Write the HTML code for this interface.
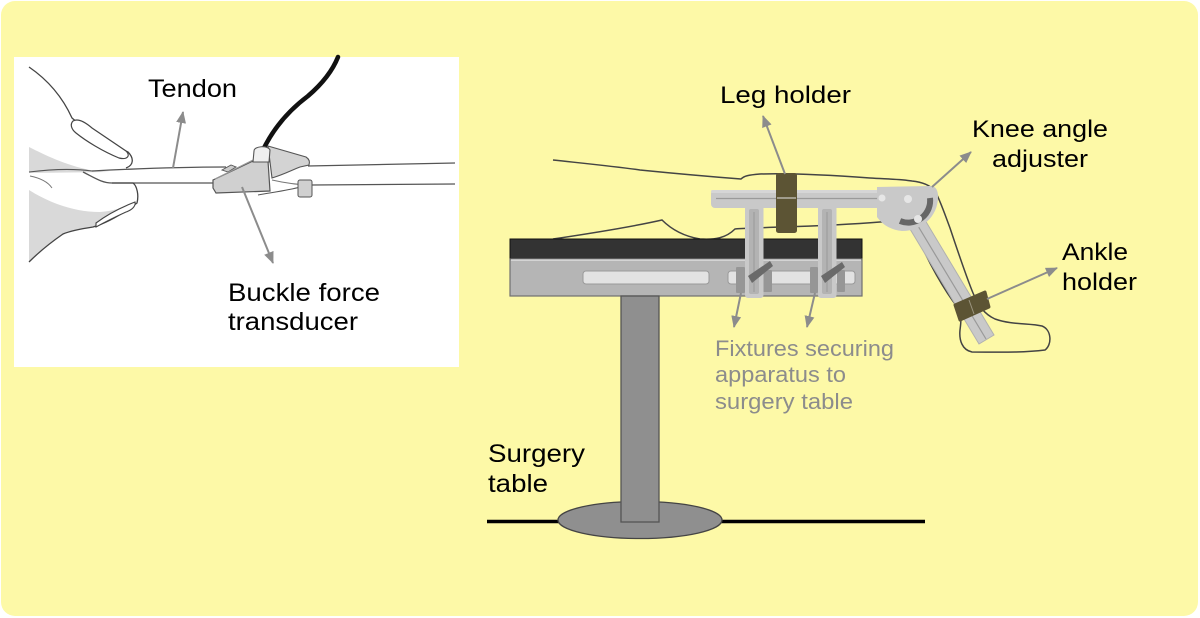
<!DOCTYPE html>
<html><head><meta charset="utf-8"><style>
html,body{margin:0;padding:0;background:#fff;}
svg{display:block;}
text{font-family:"Liberation Sans",Arial,sans-serif;}
</style></head><body>
<svg width="1200" height="618" viewBox="0 0 1200 618" xmlns="http://www.w3.org/2000/svg">
<defs>
<marker id="ah" viewBox="0 0 12 10" refX="11" refY="5" markerWidth="12" markerHeight="10" markerUnits="userSpaceOnUse" orient="auto">
<path d="M0,0 L12,5 L0,10 Z" fill="#8c8c8c"/>
</marker>
</defs>
<rect x="1" y="1" width="1197" height="615" rx="14" ry="14" fill="#fdf9a7"/>
<!-- left image -->
<rect x="14" y="57" width="445" height="310" fill="#ffffff"/>
<!-- hand shading -->
<path d="M29,147 C45,155 65,165 90,170 L110,172 L29,173 Z" fill="#d9d9d9"/>
<path d="M29,190 C45,200 70,212 100,212 C115,211 128,206 137,203 C125,212 110,222 93,227 C80,229 70,231 63,234 C50,243 38,253 29,262 Z" fill="#d9d9d9"/>
<!-- index finger outline -->
<path d="M29,67 C48,80 62,96 72,118 C90,134 112,145 128,152 C134,158 134,165 126,168" fill="none" stroke="#444" stroke-width="1.3"/>
<path d="M73,121 C78,118 85,122 92,128 L126,151 C131,156 127,160 119,158 C102,151 86,141 76,133 C71,129 70,124 73,121 Z" fill="#fff" stroke="#444" stroke-width="1.2"/>
<!-- palm crease lines -->
<path d="M29,172 C45,170 70,168 92,171" fill="none" stroke="#555" stroke-width="1.1"/>
<path d="M30,176 C40,178 48,182 52,188" fill="none" stroke="#777" stroke-width="0.9"/>
<!-- tendon -->
<path d="M92,171 C130,169 180,167 226,167" fill="none" stroke="#555" stroke-width="1.3"/>
<path d="M83,172 C95,178 102,183 112,183 L214,183" fill="none" stroke="#555" stroke-width="1.3"/>
<path d="M308,166 L455,163" fill="none" stroke="#555" stroke-width="1.3"/>
<path d="M312,185 L455,184" fill="none" stroke="#555" stroke-width="1.3"/>
<path d="M272,180 C285,183 300,185 312,185" fill="none" stroke="#777" stroke-width="1"/>
<path d="M258,195 C275,192 290,190 300,187" fill="none" stroke="#555" stroke-width="1.1"/>
<!-- thumb -->
<path d="M112,183 L133,183 C137,186 139,195 137,203 C125,212 110,222 93,227 C80,229 70,231 63,234 C50,243 38,253 29,262" fill="none" stroke="#444" stroke-width="1.3"/>
<path d="M96,223 C108,214 122,207 135,202 C136,206 132,210 126,212 C115,217 105,222 96,227 Z" fill="#fff" stroke="#444" stroke-width="1.1"/>
<!-- cable -->
<path d="M263,150 C275,125 292,108 308,96 C322,84 332,72 338,57" fill="none" stroke="#111" stroke-width="4.5" stroke-linecap="round"/>
<!-- buckle back -->
<path d="M268,146 L306,157 C309,159 310,162 309,165 L300,167 C292,170 285,174 272,178 Z" fill="#d3d3d3" stroke="#555" stroke-width="1.1"/>
<!-- small tab -->
<path d="M222,170 L231,165 L236,167 L228,172 Z" fill="#ccc" stroke="#555" stroke-width="0.9"/>
<!-- buckle front -->
<path d="M213,180 L253,161 L268,161 L270,191 L216,193 L213,188 Z" fill="#d0d0d0" stroke="#555" stroke-width="1.2"/>
<path d="M215,179 L253,160" fill="none" stroke="#999" stroke-width="1"/>
<path d="M254,151 C254,146 268,145 270,150 L269,162 L253,162 Z" fill="#efefef" stroke="#555" stroke-width="1.1"/>
<!-- clip -->
<rect x="298" y="180" width="14" height="17" rx="2" fill="#d0d0d0" stroke="#555" stroke-width="1"/>
<!-- left arrows -->
<line x1="173" y1="168" x2="183" y2="112" stroke="#8c8c8c" stroke-width="2" marker-end="url(#ah)"/>
<line x1="242" y1="187" x2="273" y2="263" stroke="#8c8c8c" stroke-width="2" marker-end="url(#ah)"/>
<text x="148" y="97" font-size="25" fill="#000" textLength="89" lengthAdjust="spacingAndGlyphs">Tendon</text>
<text x="228" y="301" font-size="25" fill="#000" textLength="152" lengthAdjust="spacingAndGlyphs">Buckle force</text>
<text x="228" y="330" font-size="25" fill="#000" textLength="130" lengthAdjust="spacingAndGlyphs">transducer</text>

<!-- RIGHT DIAGRAM -->
<!-- leg outline -->
<path d="M553,160 C590,164 620,167 640,170 C680,174 715,177 741,179 C744,176 748,175 760,174 C790,173 830,175 870,178 C885,179 900,179 912,181 C922,182 930,185 935,191 C940,200 944,212 950,228 C958,252 966,276 973,293 C978,305 984,314 995,319 C1012,325 1030,323 1042,326 C1052,330 1052,345 1045,350 C1020,353 995,352 972,352 C962,350 959,340 960,330 C961,322 962,316 958,308 C944,290 928,262 917,235" fill="none" stroke="#444" stroke-width="1.5"/>
<path d="M553,239 C600,232 640,225 662,220 C670,228 682,236 700,239 C715,240 726,238 735,229 C760,227 820,227 880,222 C885,222 888,221 890,219" fill="none" stroke="#444" stroke-width="1.5"/>
<!-- table -->
<rect x="510" y="239" width="352" height="20" fill="#333" stroke="#111" stroke-width="1"/>
<rect x="510" y="259" width="352" height="37" fill="#b5b5b5" stroke="#707070" stroke-width="1.2"/>
<line x1="511" y1="260" x2="861" y2="260" stroke="#e8e8e8" stroke-width="1.2"/>
<rect x="583" y="271" width="126" height="13" rx="3" fill="#e2e2e2" stroke="#999" stroke-width="1"/>
<rect x="728" y="271" width="127" height="13" rx="3" fill="#e2e2e2" stroke="#999" stroke-width="1"/>
<!-- floor line -->
<line x1="487" y1="521.5" x2="925" y2="521.5" stroke="#000" stroke-width="3.5"/>
<ellipse cx="640" cy="520" rx="82" ry="18.5" fill="#8f8f8f" stroke="#444" stroke-width="1.3"/>
<rect x="621" y="296" width="38" height="226" fill="#8f8f8f" stroke="#555" stroke-width="1.3"/>
<!-- clamp blocks -->
<rect x="736" y="267" width="9" height="26" rx="1" fill="#969696"/>
<rect x="763" y="270" width="9" height="22" rx="1" fill="#969696"/>
<rect x="810" y="267" width="8" height="26" rx="1" fill="#969696"/>
<rect x="837" y="270" width="8" height="22" rx="1" fill="#969696"/>
<!-- posts -->
<rect x="745" y="205" width="18.5" height="93" rx="3" fill="#c9c9c9"/>
<rect x="749" y="209" width="10" height="85" rx="2" fill="#b3b3b3"/>
<line x1="754" y1="212" x2="754" y2="292" stroke="#9a9a9a" stroke-width="1"/>
<rect x="818" y="205" width="18.5" height="93" rx="3" fill="#c9c9c9"/>
<rect x="822" y="209" width="10" height="85" rx="2" fill="#b3b3b3"/>
<line x1="827" y1="212" x2="827" y2="292" stroke="#9a9a9a" stroke-width="1"/>
<!-- levers -->
<path d="M748,276 L770,261 L773,266 L752,283 Z" fill="#6a6a6a"/>
<path d="M821,276 L842,262 L845,267 L825,283 Z" fill="#6a6a6a"/>
<!-- fixture arrows -->
<line x1="741" y1="293" x2="734" y2="327" stroke="#8c8c8c" stroke-width="2" marker-end="url(#ah)"/>
<line x1="815" y1="293" x2="807" y2="327" stroke="#8c8c8c" stroke-width="2" marker-end="url(#ah)"/>
<!-- shin bar -->
<path d="M904,219 L919,210 L994,335 L979,344 Z" fill="#c9c9c9" stroke="#b0b0b0" stroke-width="1"/>
<line x1="912" y1="216" x2="986" y2="339" stroke="#999" stroke-width="1.2"/>
<!-- horizontal bar -->
<rect x="711" y="190" width="172" height="18" rx="4" fill="#c9c9c9"/>
<rect x="711" y="190" width="172" height="3" rx="1.5" fill="#d6d6d6"/>
<line x1="716" y1="198.5" x2="880" y2="198.5" stroke="#9a9a9a" stroke-width="1.3"/>
<!-- knee plate -->
<path d="M877,187 L930,186 C937,186 938,192 938,197 C938,216 922,231 902,231 C890,230 882,224 877,217 Z" fill="#c9c9c9"/>
<path d="M900,221 A22,22 0 0 0 930,198" fill="none" stroke="#666" stroke-width="6"/>
<circle cx="882" cy="198" r="3.5" fill="#e6e6e6"/>
<circle cx="908" cy="199" r="4" fill="#e6e6e6"/>
<circle cx="918" cy="219" r="4" fill="#e6e6e6"/>
<!-- leg holder -->
<rect x="776" y="173" width="21" height="60" rx="2.5" fill="#5c5434"/>
<line x1="777" y1="198" x2="796" y2="198" stroke="#c8c8c0" stroke-width="1.2"/>
<!-- ankle holder -->
<path d="M955,305 L985,292 L989,307 L960,320 Z" fill="#5c5434" stroke="#5c5434" stroke-width="3" stroke-linejoin="round"/>
<line x1="969" y1="300" x2="974" y2="314" stroke="#9b9580" stroke-width="1"/>
<!-- right arrows -->
<line x1="785" y1="174" x2="763" y2="116" stroke="#8c8c8c" stroke-width="2" marker-end="url(#ah)"/>
<line x1="932" y1="187" x2="971" y2="152" stroke="#8c8c8c" stroke-width="2" marker-end="url(#ah)"/>
<line x1="987" y1="299" x2="1057" y2="268" stroke="#8c8c8c" stroke-width="2" marker-end="url(#ah)"/>
<!-- labels -->
<text x="720" y="103" font-size="24" fill="#000" textLength="131" lengthAdjust="spacingAndGlyphs">Leg holder</text>
<text x="972" y="137" font-size="24" fill="#000" textLength="136" lengthAdjust="spacingAndGlyphs">Knee angle</text>
<text x="992" y="167" font-size="24" fill="#000" textLength="96" lengthAdjust="spacingAndGlyphs">adjuster</text>
<text x="1062" y="260" font-size="24" fill="#000" textLength="66" lengthAdjust="spacingAndGlyphs">Ankle</text>
<text x="1062" y="290" font-size="24" fill="#000" textLength="75" lengthAdjust="spacingAndGlyphs">holder</text>
<text x="715" y="356" font-size="22" fill="#8c8c8c" textLength="179" lengthAdjust="spacingAndGlyphs">Fixtures securing</text>
<text x="715" y="382" font-size="22" fill="#8c8c8c" textLength="131" lengthAdjust="spacingAndGlyphs">apparatus to</text>
<text x="715" y="409" font-size="22" fill="#8c8c8c" textLength="138" lengthAdjust="spacingAndGlyphs">surgery table</text>
<text x="488" y="462" font-size="25" fill="#000" textLength="97" lengthAdjust="spacingAndGlyphs">Surgery</text>
<text x="488" y="492" font-size="25" fill="#000" textLength="60" lengthAdjust="spacingAndGlyphs">table</text>
</svg>
</body></html>
